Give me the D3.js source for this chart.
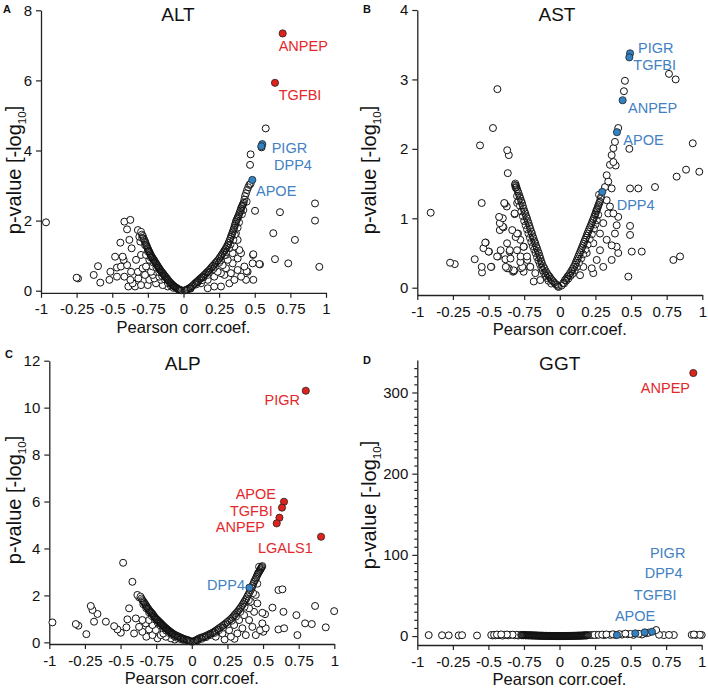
<!DOCTYPE html>
<html><head><meta charset="utf-8">
<script src="https://cdn.jsdelivr.net/npm/d3@7"></script>
<style>
html,body{margin:0;padding:0;background:#fff;}
text{font-family:"Liberation Sans",Arial,sans-serif;}
</style></head>
<body><svg id="c" width="708" height="688"></svg>
<script>
// ---------- DATA ----------
const xTickValues = [-1,-0.75,-0.5,-0.25,0,0.25,0.5,0.75,1];
const xTickLabels = ["-1","-0.25","-0.5","-0.75","0","0.25","0.5","0.75","1"];
const panelTitles = ["ALT","AST","ALP","GGT"];
const panelLetters = ["A","B","C","D"];
const yTicksALT = [0,2,4,6,8];
const yTicksAST = [0,1,2,3,4];
const yTicksALP = [0,2,4,6,8,10,12];
const yTicksGGT = [0,100,200,300];

// [Pearson r, -log10 p]
const altPoints = [
[-0.965,1.95],[-0.75,0.37],[-0.74,0.35],[-0.63,0.45],[-0.60,0.70],[-0.584,0.23],[-0.513,0.54],[-0.48,0.97],[-0.467,0.66],[-0.443,1.37],[-0.427,0.97],[-0.415,1.97],[-0.373,2.02],[-0.396,1.75],[-0.38,1.45],[-0.364,1.21],[-0.42,0.88],[-0.396,0.73],[-0.368,0.54],[-0.333,0.88],[-0.32,0.54],[-0.415,0.40],[-0.373,0.31],[-0.34,0.12],[-0.357,0.21],[-0.317,0.35],[-0.287,0.64],[-0.298,1.02],[-0.27,0.45],[-0.24,0.31],[-0.32,1.73],[-0.31,1.54],[-0.303,1.40],[-0.439,0.69],[-0.467,0.40],[-0.387,0.12],[-0.298,0.16],[-0.216,0.45],[-0.52,0.31],
[-0.263,1.02],[-0.24,0.88],[-0.216,0.69],[-0.193,0.54],[-0.17,0.40],[-0.228,0.54],[-0.205,0.35],[-0.263,0.69],[-0.251,0.16],[-0.193,0.21],[-0.146,0.16],[-0.111,0.12],[-0.158,0.31],
[0.123,0.21],[0.17,0.31],[0.216,0.40],[0.263,0.50],[0.298,0.64],[0.345,0.78],[0.38,0.92],[0.404,1.07],[0.345,1.07],[0.31,0.88],[0.275,0.73],[0.24,0.54],[0.287,0.45],[0.333,0.50],[0.38,0.59],[0.427,0.69],[0.404,0.40],[0.45,0.54],[0.485,0.78],[0.439,0.31],[0.357,0.31],[0.322,0.21],[0.263,0.12],[0.216,0.12],[0.17,0.07],[0.38,1.45],[0.357,1.26],[0.322,1.21],[0.392,1.16],[0.298,1.02],[0.368,1.64],[0.488,1.02],[0.532,0.76],[0.443,0.56],[0.49,0.31],
[0.502,2.28],[0.677,2.24],[0.63,1.64],[0.782,1.45],[0.923,2.49],[0.923,2.0],[0.953,0.68],[0.735,0.78],[0.642,0.90],[0.537,0.75],[0.49,1.04],[0.467,3.59],[0.471,3.89],[0.548,4.09],[0.577,4.63]
];
const altArms = [
[-0.298,1.68],[-0.285,1.56],[-0.275,1.45],[-0.266,1.36],[-0.256,1.26],[-0.248,1.18],[-0.24,1.11],[-0.232,1.04],[-0.223,0.97],[-0.214,0.91],[-0.205,0.86],[-0.195,0.79],[-0.186,0.73],[-0.176,0.67],[-0.167,0.61],[-0.156,0.55],[-0.146,0.50],[-0.135,0.44],[-0.123,0.38],[-0.112,0.32],[-0.10,0.26],[-0.088,0.21],[-0.076,0.16],[-0.064,0.12],[-0.053,0.09],[-0.04,0.05],[-0.03,0.02],[-0.015,0.01],
[-0.29,1.50],[-0.27,1.30],[-0.25,1.12],[-0.23,0.95],[-0.21,0.80],[-0.19,0.66],[-0.17,0.53],[-0.15,0.42],[-0.13,0.32],[-0.11,0.22],[-0.09,0.15],[-0.07,0.08],
[-0.292,1.60],[-0.280,1.49],[-0.270,1.40],[-0.261,1.30],[-0.252,1.21],[-0.244,1.14],[-0.236,1.07],[-0.228,1.00],[-0.218,0.94],[-0.209,0.88],[-0.200,0.82],[-0.190,0.76],[-0.181,0.70],[-0.171,0.64],[-0.161,0.58],[-0.151,0.52],[-0.140,0.47],[-0.129,0.41],[-0.117,0.35],[-0.106,0.29],[-0.094,0.23],[-0.082,0.18],[-0.070,0.14],[-0.058,0.10],[-0.046,0.07],[-0.035,0.04],[-0.022,0.02],
[0.01,0.01],[0.025,0.03],[0.041,0.07],[0.058,0.12],[0.076,0.19],[0.093,0.25],[0.111,0.32],[0.128,0.38],[0.146,0.45],[0.163,0.52],[0.181,0.59],[0.198,0.67],[0.216,0.75],[0.233,0.83],[0.251,0.92],[0.266,1.01],[0.282,1.11],[0.296,1.20],[0.31,1.30],[0.322,1.42],[0.333,1.54],[0.343,1.65],[0.352,1.75],[0.36,1.86],[0.368,1.97],[0.377,2.05],[0.385,2.13],[0.395,2.24],[0.404,2.35],[0.413,2.43],[0.422,2.51],[0.432,2.70],[0.446,2.87],[0.462,3.02],[0.471,3.05],
[0.05,0.06],[0.09,0.18],[0.13,0.30],[0.17,0.45],[0.21,0.62],[0.25,0.80],[0.29,1.02],[0.32,1.22],[0.35,1.45],[0.38,1.80],[0.42,2.30],[0.443,2.54],
[0.018,0.02],[0.033,0.05],[0.049,0.09],[0.067,0.15],[0.084,0.22],[0.102,0.28],[0.12,0.35],[0.137,0.41],[0.155,0.48],[0.172,0.55],[0.19,0.63],[0.207,0.71],[0.224,0.79],[0.242,0.87],[0.258,0.96],[0.274,1.06],[0.289,1.15],[0.303,1.25],[0.316,1.36],[0.328,1.48],[0.338,1.59],[0.348,1.70],[0.356,1.80],[0.364,1.91],[0.372,2.01],[0.381,2.09],[0.39,2.18],[0.40,2.29],[0.409,2.39],[0.418,2.47],[0.427,2.60],[0.439,2.78],[0.454,2.95],
[0.10,0.24],[0.14,0.38],[0.18,0.52],[0.22,0.68],[0.26,0.86],[0.30,1.10],[0.33,1.32],[0.36,1.60],[0.39,1.95],[0.41,2.18]
];
const astPoints = [
[-0.906,1.08],[-0.77,0.36],[-0.737,0.34],[-0.597,0.41],[-0.548,0.30],[-0.56,2.05],[-0.548,1.22],[-0.536,0.57],[-0.52,0.65],[-0.497,0.52],[-0.48,0.30],[-0.469,2.30],[-0.438,2.86],[-0.433,0.45],[-0.426,1.02],[-0.421,0.93],[-0.421,0.83],[-0.415,0.54],[-0.40,0.88],[-0.386,1.21],[-0.372,1.17],[-0.369,1.98],[-0.358,1.91],[-0.365,1.65],[-0.351,0.54],[-0.346,0.42],[-0.334,0.83],[-0.317,1.07],[-0.299,1.22],[-0.379,0.30],[-0.37,0.64],[-0.31,0.73],[-0.293,0.78],[-0.275,0.45],[-0.321,0.24],[-0.263,0.30],[-0.252,0.59],[-0.228,0.40],[-0.209,0.30],[-0.39,1.22],[-0.317,1.06],[-0.40,1.0],[-0.395,0.87],
[-0.30,0.78],[-0.277,0.69],[-0.254,0.59],[-0.30,0.54],[-0.23,0.45],[-0.277,0.37],[-0.207,0.30],[-0.254,0.23],[-0.172,0.21],[-0.137,0.11],[-0.183,0.09],[-0.324,0.25],[-0.359,0.28],[-0.523,0.65],[-0.50,0.52],[-0.44,0.45],[-0.483,0.30],[-0.546,0.22],[-0.382,0.41],[-0.352,0.52],[-0.37,0.28],[-0.328,0.23],[-0.272,0.28],
[0.317,1.45],[0.329,1.62],[0.34,1.53],[0.352,1.77],[0.364,1.91],[0.376,2.01],[0.387,2.10],[0.376,1.81],[0.392,1.76],[0.364,1.43],[0.41,2.30],[0.45,2.83],[0.457,2.98],
[0.329,1.26],[0.352,1.17],[0.34,1.07],[0.376,1.07],[0.41,1.02],[0.493,0.89],[0.493,0.76],[0.399,0.90],[0.387,0.78],[0.305,0.93],[0.282,0.78],[0.329,0.69],[0.364,0.61],[0.399,0.59],[0.41,0.50],[0.364,0.40],[0.282,0.54],[0.259,0.40],[0.235,0.64],[0.224,0.28],[0.189,0.50],[0.165,0.30],[0.142,0.18],[0.235,0.21],[0.305,0.30],
[0.766,3.08],[0.813,3.0],[0.933,2.08],[0.488,2.0],[0.493,1.43],[0.551,1.43],[0.668,1.45],[0.82,1.60],[0.886,1.70],[0.979,1.67],[0.505,0.52],[0.575,0.52],[0.481,0.16],[0.797,0.40],[0.844,0.45]
];
const astArms = [
[-0.312,1.50],[-0.305,1.45],[-0.30,1.42],[-0.289,1.36],[-0.277,1.29],[-0.265,1.22],[-0.254,1.14],[-0.242,1.07],[-0.23,1.0],[-0.219,0.93],[-0.207,0.85],[-0.195,0.78],[-0.184,0.71],[-0.172,0.64],[-0.16,0.57],[-0.148,0.50],[-0.136,0.42],[-0.125,0.35],[-0.108,0.28],[-0.09,0.21],[-0.072,0.16],[-0.055,0.11],[-0.038,0.07],[-0.02,0.04],[-0.008,0.01],
[-0.30,1.32],[-0.28,1.18],[-0.26,1.03],[-0.24,0.90],[-0.22,0.78],[-0.20,0.66],[-0.18,0.55],[-0.16,0.44],[-0.14,0.34],[-0.12,0.25],[-0.10,0.17],[-0.08,0.10],[-0.06,0.06],[-0.315,1.48],[-0.31,1.44],
[-0.308,1.47],[-0.295,1.39],[-0.283,1.32],[-0.271,1.25],[-0.26,1.18],[-0.248,1.10],[-0.236,1.03],[-0.225,0.96],[-0.213,0.89],[-0.201,0.81],[-0.19,0.74],[-0.178,0.67],[-0.166,0.60],[-0.154,0.53],[-0.142,0.46],[-0.13,0.38],[-0.117,0.31],[-0.099,0.24],[-0.081,0.18],[-0.063,0.13],[-0.046,0.09],[-0.029,0.05],[-0.014,0.02],
[-0.29,1.25],[-0.27,1.10],[-0.25,0.96],[-0.23,0.84],[-0.21,0.72],[-0.19,0.60],[-0.17,0.50],[-0.15,0.39],[-0.13,0.29],[-0.11,0.21],[-0.09,0.14],
[0.012,0.03],[0.036,0.11],[0.054,0.16],[0.072,0.21],[0.09,0.27],[0.107,0.33],[0.118,0.39],[0.13,0.45],[0.142,0.51],[0.154,0.57],[0.166,0.63],[0.177,0.69],[0.189,0.75],[0.20,0.81],[0.212,0.87],[0.224,0.93],[0.236,0.99],[0.247,1.05],[0.255,1.10],[0.263,1.14],[0.272,1.19],[0.282,1.24],[0.275,1.34],[0.29,1.31],
[0.03,0.06],[0.06,0.13],[0.09,0.20],[0.12,0.30],[0.15,0.42],[0.18,0.55],[0.21,0.70],[0.24,0.85],[0.26,0.97],
[0.024,0.07],[0.045,0.13],[0.063,0.18],[0.081,0.24],[0.098,0.30],[0.112,0.36],[0.124,0.42],[0.136,0.48],[0.148,0.54],[0.16,0.60],[0.171,0.66],[0.183,0.72],[0.194,0.78],[0.206,0.84],[0.218,0.90],[0.23,0.96],[0.241,1.02],[0.251,1.07],[0.259,1.12],[0.268,1.17],[0.277,1.22],[0.286,1.28],
[0.045,0.10],[0.075,0.17],[0.105,0.25],[0.135,0.36],[0.165,0.48],[0.195,0.62],[0.225,0.77],[0.25,0.91],[0.27,1.05]
];
const alpPoints = [
[-0.978,0.85],[-0.814,0.78],[-0.796,0.71],[-0.74,0.35],[-0.709,1.55],[-0.697,1.38],[-0.662,1.21],[-0.686,0.88],[-0.603,0.88],[-0.545,0.69],[-0.522,0.55],[-0.498,0.41],[-0.459,0.64],[-0.452,0.98],[-0.44,1.45],[-0.417,2.58],[-0.482,3.39],[-0.382,2.02],[-0.37,1.92],[-0.393,1.02],[-0.37,0.66],[-0.347,0.45],[-0.319,0.24],[-0.405,0.38],[-0.30,0.55],
[-0.30,0.95],[-0.276,0.74],[-0.253,0.52],[-0.218,0.31],[-0.182,0.24],[-0.276,0.31],[-0.323,0.81],[-0.241,0.17],[-0.147,0.17],[-0.347,0.95],[-0.20,0.38],[-0.12,0.12],
[0.168,0.24],[0.215,0.38],[0.262,0.52],[0.297,0.74],[0.332,0.95],[0.367,1.16],[0.402,1.45],[0.414,1.73],[0.449,2.02],[0.46,1.66],[0.402,0.95],[0.425,0.66],[0.355,0.60],[0.32,0.38],[0.379,0.31],[0.437,1.30],[0.495,0.81],[0.519,0.60],[0.449,0.31],[0.274,0.24],[0.495,1.26],[0.479,0.52],[0.502,0.45],[0.23,0.12],[0.30,0.15],
[0.608,2.23],[0.636,2.26],[0.566,1.48],[0.643,1.30],[0.734,1.16],[0.865,1.55],[0.999,1.33],[0.795,0.81],[0.608,0.55],[0.648,0.60],[0.741,0.31],[0.842,0.78],[0.94,0.64],[0.514,1.20]
];
const alpArms = [
[-0.36,1.95],[-0.347,1.80],[-0.335,1.70],[-0.323,1.59],[-0.312,1.48],[-0.30,1.38],[-0.288,1.29],[-0.276,1.21],[-0.265,1.11],[-0.253,1.02],[-0.241,0.95],[-0.229,0.88],[-0.218,0.81],[-0.206,0.74],[-0.194,0.67],[-0.182,0.60],[-0.17,0.54],[-0.159,0.48],[-0.147,0.43],[-0.136,0.38],[-0.118,0.32],[-0.101,0.27],[-0.083,0.22],[-0.066,0.17],[-0.048,0.13],[-0.031,0.10],[-0.015,0.06],
[-0.34,1.62],[-0.32,1.45],[-0.30,1.28],[-0.28,1.12],[-0.26,0.98],[-0.24,0.85],[-0.22,0.72],[-0.20,0.60],[-0.18,0.50],[-0.16,0.40],[-0.14,0.32],[-0.12,0.25],[-0.10,0.19],[-0.08,0.14],[-0.06,0.10],
[-0.353,1.87],[-0.341,1.75],[-0.329,1.64],[-0.317,1.53],[-0.306,1.43],[-0.294,1.33],[-0.282,1.25],[-0.27,1.16],[-0.259,1.06],[-0.247,0.98],[-0.235,0.91],[-0.223,0.84],[-0.212,0.77],[-0.2,0.70],[-0.188,0.63],[-0.176,0.57],[-0.164,0.51],[-0.153,0.45],[-0.141,0.40],[-0.127,0.35],[-0.11,0.29],[-0.092,0.24],[-0.074,0.19],[-0.057,0.15],[-0.04,0.11],[-0.023,0.08],[-0.007,0.04],
[0.015,0.05],[0.033,0.10],[0.051,0.17],[0.075,0.22],[0.098,0.27],[0.12,0.34],[0.145,0.41],[0.168,0.50],[0.191,0.60],[0.215,0.70],[0.238,0.81],[0.262,0.93],[0.285,1.06],[0.302,1.18],[0.32,1.30],[0.338,1.44],[0.355,1.59],[0.369,1.73],[0.383,1.87],[0.398,2.05],[0.414,2.23],[0.426,2.40],[0.437,2.58],[0.449,2.72],[0.46,2.87],[0.469,2.98],[0.479,3.08],[0.487,3.17],[0.495,3.25],[0.472,3.22],
[0.04,0.08],[0.07,0.15],[0.10,0.22],[0.13,0.31],[0.16,0.40],[0.19,0.52],[0.22,0.63],[0.25,0.76],[0.28,0.92],[0.31,1.10],[0.34,1.30],[0.37,1.52],[0.40,1.80],[0.43,2.10],[0.46,2.50],
[0.006,0.03],[0.024,0.07],[0.042,0.13],[0.063,0.19],[0.086,0.24],[0.109,0.30],[0.132,0.37],[0.156,0.45],[0.18,0.55],[0.203,0.65],[0.226,0.75],[0.25,0.87],[0.273,0.99],[0.294,1.12],[0.311,1.24],[0.329,1.37],[0.346,1.51],[0.362,1.66],[0.376,1.80],[0.39,1.96],[0.406,2.14],[0.42,2.31],[0.431,2.49],[0.443,2.65],[0.454,2.79],[0.464,2.93],[0.474,3.03],[0.483,3.12],[0.491,3.21]
];
const ggtPoints = [
[-0.92,1.2],[-0.826,1.0],[-0.779,0.9],[-0.709,0.8],[-0.685,1.1],[-0.58,0.7],
[-0.48,1.3],[-0.47,0.8],[-0.46,1.5],[-0.45,0.9],[-0.44,1.8],[-0.425,1.1],[-0.41,2.0],[-0.40,0.6],[-0.385,1.5],[-0.37,1.9],[-0.36,0.9],[-0.345,1.4],[-0.33,1.7],[-0.315,1.0],[-0.30,1.5],[-0.29,0.7],[-0.28,1.3],
[0.215,1.2],[0.23,1.3],[0.245,1.5],[0.26,1.4],[0.275,1.6],[0.30,1.8],[0.315,1.2],[0.33,2.0],[0.357,1.4],[0.375,2.2],[0.39,1.6],[0.42,2.4],[0.44,1.8],[0.463,3.0],[0.48,2.2],[0.499,2.6],[0.52,1.5],[0.558,2.8],[0.58,1.9],[0.61,3.5],[0.627,4.2],[0.68,7.4],[0.70,1.6],[0.734,1.2],[0.77,1.4],[0.804,1.3],[0.93,1.5],[0.945,2.0],[0.96,1.4],[0.987,1.6],[1.0,1.3]
];
const ggtArms = [
[-0.27,1.6],[-0.26,1.2],[-0.25,1.4],[-0.24,1.0],[-0.23,1.2],[-0.22,0.9],[-0.21,1.1],[-0.2,0.8],[-0.19,0.9],[-0.18,0.7],[-0.17,0.8],[-0.16,0.6],[-0.15,0.6],[-0.14,0.5],[-0.13,0.5],[-0.12,0.4],[-0.11,0.4],[-0.1,0.3],[-0.09,0.3],[-0.08,0.2],[-0.07,0.2],[-0.06,0.1],[-0.05,0.1],[-0.04,0.1],[-0.03,0.05],[-0.02,0.05],[-0.01,0.02],[0,0],[0.01,0.02],[0.02,0.05],[0.03,0.08],[0.04,0.1],[0.05,0.15],[0.06,0.2],[0.07,0.2],[0.08,0.3],[0.09,0.3],[0.1,0.4],[0.11,0.4],[0.12,0.5],[0.13,0.5],[0.14,0.6],[0.15,0.6],[0.16,0.7],[0.17,0.8],[0.18,0.9],[0.19,1.0],[0.2,1.1],
[-0.265,1.0],[-0.255,0.9],[-0.245,1.3],[-0.235,0.8],[-0.225,1.0],[-0.215,0.7],[-0.205,1.0],[-0.195,0.6],[-0.185,0.8],[-0.175,0.5],[-0.165,0.7],[-0.155,0.4],[-0.145,0.5],[-0.135,0.3],[-0.125,0.4],[-0.115,0.3],[-0.105,0.2],[-0.095,0.2],[-0.085,0.1],[-0.075,0.1],[-0.065,0.1],[-0.055,0.05],[-0.045,0.05],[-0.035,0.03],[-0.025,0.02],[-0.015,0.01],[-0.005,0.01],[0.005,0.01],[0.015,0.02],[0.025,0.03],[0.035,0.05],[0.045,0.08],[0.055,0.1],[0.065,0.15],[0.075,0.15],[0.085,0.2],[0.095,0.25],[0.105,0.3],[0.115,0.35],[0.125,0.4],[0.135,0.45],[0.145,0.5],[0.155,0.55],[0.165,0.6],[0.175,0.7],[0.185,0.75],[0.195,0.8]
];

// highlighted genes: [gene, r, -log10 p, significant?]
const altGenes = [["ANPEP",0.696,7.34,true],["TGFBI",0.642,5.93,true],["PIGR",0.553,4.18,false],["DPP4",0.546,4.12,false],["APOE",0.483,3.16,false]];
const astGenes = [["PIGR",0.493,3.376,false],["TGFBI",0.488,3.318,false],["ANPEP",0.441,2.70,false],["APOE",0.401,2.24,false],["DPP4",0.298,1.38,false]];
const alpGenes = [["PIGR",0.80,10.72,true],["APOE",0.647,5.99,true],["TGFBI",0.633,5.74,true],["",0.615,5.31,true],["ANPEP",0.596,5.07,true],["LGALS1",0.907,4.50,true],["DPP4",0.404,2.33,false]];
const ggtGenes = [["ANPEP",0.941,324,true],["APOE",0.404,1.2,false],["TGFBI",0.533,3.3,false],["DPP4",0.599,4.6,false],["PIGR",0.65,5.3,false]];

// ---------- LAYOUT / STYLE ----------
const RED = "#e0221c", RED_T = "#e3282a", BLUE = "#3281c2", BLUE_T = "#4381c3";
const panels = [
  {title:panelTitles[0], letter:panelLetters[0], pts:altPoints, arms:altArms, genes:altGenes, yTicks:yTicksALT,
   xr:[41,326], yd:[-0.06,8], yr:[292.8,10.3], letterPos:[3,13], titlePos:[178,21], ylabPos:[14,170],
   lab:{ANPEP:[-4,12.6,"start"],TGFBI:[3.7,12,"start"],PIGR:[9.4,3.5,"start"],DPP4:[12.7,19,"start"],APOE:[3.7,11,"start"]}},
  {title:panelTitles[1], letter:panelLetters[1], pts:astPoints, arms:astArms, genes:astGenes, yTicks:yTicksAST,
   xr:[417.3,702.3], yd:[-0.105,4], yr:[295,10], letterPos:[363,13], titlePos:[557,21], ylabPos:[369,170],
   lab:{PIGR:[8,-5,"start"],TGFBI:[4,7.5,"start"],ANPEP:[5.4,8,"start"],APOE:[6.4,7.8,"start"],DPP4:[14.4,13,"start"]}},
  {title:panelTitles[2], letter:panelLetters[2], pts:alpPoints, arms:alpArms, genes:alpGenes, yTicks:yTicksALP,
   xr:[49.3,334.3], yd:[-0.07,12], yr:[644,360.7], letterPos:[5,358], titlePos:[182.7,370], ylabPos:[14,500],
   lab:{PIGR:[-5.8,9.3,"end"],APOE:[-8,-7.8,"end"],TGFBI:[-9.3,3.6,"end"],ANPEP:[-11.7,3.2,"end"],LGALS1:[-8.3,11.6,"end"],DPP4:[-4.4,-2.6,"end"]}},
  {title:panelTitles[3], letter:panelLetters[3], pts:ggtPoints, arms:ggtArms, genes:ggtGenes, yTicks:yTicksGGT, minor:10,
   xr:[417.3,701.7], yd:[-11,340], yr:[645,360], letterPos:[363,364], titlePos:[559.7,370], ylabPos:[369,505],
   lab:{ANPEP:[-3.3,15,"end"],PIGR:[-2,-78.4,"start"],DPP4:[0,-59.1,"start"],TGFBI:[-1.5,-38.7,"start"],APOE:[-2,-19,"start"]}}
];

const svg = d3.select("#c");
const FONT = "'Liberation Sans',Arial,sans-serif";

panels.forEach(p => {
  const g = svg.append("g");
  const x = d3.scaleLinear().domain([-1,1]).range(p.xr);
  const y = d3.scaleLinear().domain(p.yd).range(p.yr);

  const xa = g.append("g").attr("transform",`translate(0,${p.yr[0]})`)
    .call(d3.axisBottom(x).tickValues(xTickValues).tickFormat((d,i)=>xTickLabels[i]).tickSize(5).tickSizeOuter(0).tickPadding(6));
  if (p.minor) {
    const minorVals = d3.range(0, p.yd[1], p.minor).filter(v => p.yTicks.indexOf(v) < 0);
    g.append("g").attr("transform",`translate(${p.xr[0]},0)`)
      .call(d3.axisLeft(y).tickValues(minorVals).tickFormat("").tickSize(3).tickSizeOuter(0))
      .call(s=>s.select(".domain").remove());
  }
  const ya = g.append("g").attr("transform",`translate(${p.xr[0]},0)`)
    .call(d3.axisLeft(y).tickValues(p.yTicks).tickFormat(d=>String(d)).tickSize(5).tickSizeOuter(0).tickPadding(4));
  [xa,ya].forEach(a=>{
    a.selectAll("text").attr("font-size",15).attr("font-family",FONT).attr("fill","#111");
    a.selectAll("line,path").attr("stroke","#222").attr("stroke-width",1.3);
  });
  g.selectAll("g.tick line").attr("stroke","#222").attr("stroke-width",1.2);

  // scattered points
  const pts = p.pts.slice().sort((a,b)=>a[1]-b[1]);
  g.append("g").selectAll("circle").data(pts).join("circle")
    .attr("cx",d=>x(d[0])).attr("cy",d=>y(d[1])).attr("r",3.5)
    .attr("fill","#fff").attr("stroke","#111").attr("stroke-width",1);
  // dense arms: fills first, then all outlines (overlapping outlines stay visible)
  g.append("g").selectAll("circle").data(p.arms).join("circle")
    .attr("cx",d=>x(d[0])).attr("cy",d=>y(d[1])).attr("r",3.5).attr("fill","#fff");
  g.append("g").selectAll("circle").data(p.arms).join("circle")
    .attr("cx",d=>x(d[0])).attr("cy",d=>y(d[1])).attr("r",3.5)
    .attr("fill","none").attr("stroke","#111").attr("stroke-width",0.9);

  const hg = g.append("g");
  hg.selectAll("circle").data(p.genes).join("circle")
    .attr("cx",d=>x(d[1])).attr("cy",d=>y(d[2])).attr("r",3.6)
    .attr("fill",d=>d[3]?RED:BLUE).attr("stroke","#222").attr("stroke-width",0.8);
  hg.selectAll("text").data(p.genes.filter(d=>d[0])).join("text")
    .attr("x",d=>x(d[1]) + p.lab[d[0]][0]).attr("y",d=>y(d[2]) + p.lab[d[0]][1])
    .attr("dy","0.35em").attr("text-anchor",d=>p.lab[d[0]][2])
    .attr("font-size",14.5).attr("fill",d=>d[3]?RED_T:BLUE_T).text(d=>d[0]);

  g.append("text").attr("x",p.titlePos[0]).attr("y",p.titlePos[1]).attr("text-anchor","middle")
    .attr("font-size",19).attr("fill","#111").text(p.title);
  g.append("text").attr("x",p.letterPos[0]).attr("y",p.letterPos[1])
    .attr("font-size",11).attr("font-weight","bold").attr("fill","#111").text(p.letter);
  g.append("text").attr("x",(p.xr[0]+p.xr[1])/2).attr("y",p.yr[0] + 40).attr("text-anchor","middle")
    .attr("font-size",16.5).attr("fill","#111").text("Pearson corr.coef.");
  const yl = g.append("text").attr("transform",`translate(${p.ylabPos[0]},${p.ylabPos[1]}) rotate(-90)`)
    .attr("text-anchor","middle").attr("dy","0.35em").attr("font-size",20).attr("fill","#111");
  yl.append("tspan").text("p-value [-log");
  yl.append("tspan").attr("font-size",11.5).attr("dy","0.45em").text("10");
  yl.append("tspan").attr("dy","-0.3em").text("]");
});
</script></body></html>
